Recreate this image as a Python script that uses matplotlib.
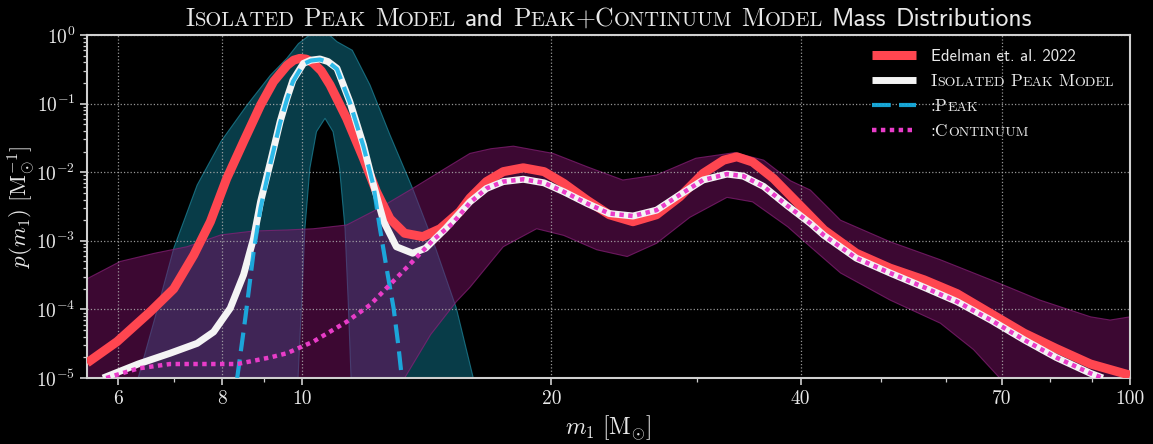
import numpy as np
import matplotlib.pyplot as plt
from matplotlib.ticker import FixedLocator, FixedFormatter, LogLocator, NullFormatter
from matplotlib.transforms import IdentityTransform

plt.rcParams['mathtext.fontset'] = 'cm'
plt.rcParams['axes.unicode_minus'] = False

# ---- data ----
red_m = [5.5, 5.98, 6.56, 7.0, 7.4, 7.75, 8.11, 8.5, 8.91, 9.24, 9.59, 9.77, 9.94, 10.12,
         10.32, 10.55, 10.81, 11.32, 11.86, 12.3, 12.77, 13.3, 13.99, 14.68, 15.5, 15.95, 16.7,
         17.5, 18.5, 19.6, 20.7, 22.1, 23.5, 25.1, 26.8, 28.6, 30.5, 32.3, 33.5, 35.0, 37.1,
         39.3, 42.7, 46.7, 51.3, 56.4, 61.8, 67.9, 74.5, 81.4, 89.6, 100]
red_p = [1.66e-5, 3.4e-5, 9.3e-5, 2.0e-4, 6.2e-4, 1.9e-3, 8.1e-3, 0.028, 0.095, 0.21, 0.36,
         0.43, 0.457, 0.445, 0.39, 0.3, 0.187, 0.061, 0.016, 5.2e-3, 2.1e-3, 1.29e-3, 1.15e-3,
         1.5e-3, 2.65e-3, 4.2e-3, 7.3e-3, 0.0102, 0.0116, 0.0102, 6.9e-3, 3.9e-3, 2.4e-3,
         1.9e-3, 2.4e-3, 4.4e-3, 9.6e-3, 0.015, 0.0168, 0.0141, 8.1e-3, 4.0e-3, 1.44e-3,
         6.6e-4, 4.0e-4, 2.7e-4, 1.7e-4, 8.7e-5, 4.5e-5, 2.7e-5, 1.6e-5, 1.1e-5]

iso_m = [5.75, 6.34, 6.93, 7.47, 7.82, 8.19, 8.5, 8.74, 8.91, 9.16, 9.41, 9.59, 9.75, 10.04,
         10.25, 10.51, 10.75, 11.02, 11.42, 11.86, 12.2, 12.55, 13.0, 13.6, 14.1, 14.9, 15.95,
         16.7, 17.5, 18.5, 19.6, 20.7, 22.1, 23.5, 25.1, 26.8, 28.6, 30.5, 32.6, 34.1, 36.1,
         38.5, 41.1, 42.7, 46.7, 51.3, 56.4, 61.8, 67.9, 74.5, 81.4, 89.6, 92.7]
iso_p = [1.0e-5, 1.6e-5, 2.3e-5, 3.2e-5, 4.7e-5, 1.04e-4, 3.2e-4, 1.09e-3, 3.7e-3, 0.0142,
         0.055, 0.12, 0.22, 0.386, 0.43, 0.447, 0.41, 0.327, 0.107, 0.025, 6.5e-3, 1.9e-3,
         8.2e-4, 6.6e-4, 7.8e-4, 1.5e-3, 3.7e-3, 5.8e-3, 7.3e-3, 7.9e-3, 7.0e-3, 5.2e-3,
         3.5e-3, 2.5e-3, 2.3e-3, 2.8e-3, 4.7e-3, 7.7e-3, 9.4e-3, 8.8e-3, 6.2e-3, 3.3e-3,
         1.8e-3, 1.2e-3, 5.6e-4, 3.4e-4, 2.1e-4, 1.3e-4, 7.0e-5, 3.6e-5, 2.0e-5, 1.17e-5,
         1.0e-5]

peak_m = [8.35, 8.54, 8.74, 8.91, 9.16, 9.41, 9.59, 9.75, 10.04, 10.25, 10.51, 10.75, 11.02,
          11.42, 11.86, 12.2, 12.4, 12.65, 12.9, 13.07, 13.2]
peak_p = [1e-5, 7.4e-5, 6.9e-4, 3.0e-3, 0.0135, 0.053, 0.115, 0.21, 0.38, 0.425, 0.44, 0.405,
          0.32, 0.105, 0.024, 6.3e-3, 1.7e-3, 4.0e-4, 1.04e-4, 3.0e-5, 1e-5]

cont_m = [5.8, 6.34, 6.93, 7.6, 8.35, 9.16, 9.59, 10.32, 11.32, 12.08, 12.77, 13.6, 14.4, 15.2,
          15.95, 16.7, 17.5, 18.5, 19.6, 20.7, 22.1, 23.5, 25.1, 26.8, 28.6, 30.5, 32.6, 34.1,
          36.1, 38.5, 41.1, 42.7, 46.7, 51.3, 56.4, 61.8, 67.9, 74.5, 81.4, 89.6, 92.7]
cont_p = [1e-5, 1.38e-5, 1.6e-5, 1.6e-5, 1.6e-5, 2.0e-5, 2.3e-5, 3.4e-5, 6.6e-5, 1.16e-4,
          2.3e-4, 5.0e-4, 1.03e-3, 1.8e-3, 3.6e-3, 5.8e-3, 7.3e-3, 7.9e-3, 7.0e-3, 5.2e-3,
          3.5e-3, 2.5e-3, 2.3e-3, 2.8e-3, 4.7e-3, 7.7e-3, 9.4e-3, 8.8e-3, 6.2e-3, 3.3e-3,
          1.8e-3, 1.2e-3, 5.6e-4, 3.4e-4, 2.1e-4, 1.3e-4, 7.0e-5, 3.6e-5, 2.0e-5, 1.17e-5,
          1.0e-5]

# peak 90% band: upper edge and lower edge (lower is below the axis outside the arch)
peak_hi_m = [6.34, 6.64, 7.0, 7.47, 7.98, 8.58, 9.16, 9.59, 9.9, 10.32, 10.7, 11.02, 11.5,
             12.08, 12.77, 13.6, 14.5, 15.36, 16.1]
peak_hi_p = [1e-5, 7.4e-5, 7.8e-4, 6.5e-3, 0.028, 0.095, 0.26, 0.46, 0.75, 1.1, 1.1, 0.8, 0.6,
             0.187, 0.035, 5.8e-3, 7.8e-4, 1.04e-4, 1e-5]
peak_lo_m = [6.34, 9.8, 9.89, 9.99, 10.08, 10.22, 10.41, 10.66, 10.9, 11.1, 11.27, 11.37,
             11.46, 11.55, 16.1]
peak_lo_p = [1e-6, 1e-6, 1e-5, 1.3e-4, 1.5e-3, 0.0114, 0.039, 0.061, 0.039, 0.0114, 1.5e-3,
             1.3e-4, 1e-5, 1e-6, 1e-6]

# continuum 90% band
cont_hi_m = [5.5, 6.03, 6.64, 7.26, 7.98, 8.74, 9.59, 10.32, 11.32, 12.4, 13.6, 14.9, 15.95,
             16.9, 18.0, 20.1, 22.1, 24.4, 26.8, 29.9, 33.3, 36.1, 38.9, 41.1, 44.7, 51.3, 59.0,
             67.9, 77.8, 89.6, 94.6, 100]
cont_hi_p = [2.8e-4, 5.0e-4, 6.6e-4, 8.2e-4, 1.22e-3, 1.39e-3, 1.44e-3, 1.5e-3, 1.7e-3,
             3.0e-3, 5.8e-3, 0.0114, 0.0188, 0.022, 0.024, 0.0188, 0.012, 7.7e-3, 9.1e-3,
             0.016, 0.0193, 0.015, 7.5e-3, 5.5e-3, 2.0e-3, 9.7e-4, 5.3e-4, 2.7e-4, 1.37e-4,
             7.8e-5, 7.0e-5, 7.8e-5]
cont_lo_m = [5.5, 13.2, 13.3, 14.3, 15.36, 15.95, 17.5, 19.2, 20.7, 22.7, 24.7, 26.8, 29.4,
             32.6, 35.0, 38.6, 41.1, 44.7, 51.3, 59.0, 64.7, 69.6, 70.5, 100]
cont_lo_p = [1e-6, 1e-6, 1e-5, 4.3e-5, 1.3e-4, 2.1e-4, 8.2e-4, 1.5e-3, 1.2e-3, 7.4e-4, 5.9e-4,
             9.2e-4, 2.2e-3, 4.3e-3, 3.7e-3, 1.6e-3, 8.2e-4, 3.4e-4, 1.37e-4, 6.3e-5, 2.6e-5,
             1e-5, 1e-6, 1e-6]

xticks = [6, 8, 10, 20, 40, 70, 100]
xticklabels = ['6', '8', '10', '20', '40', '70', '100']
xminor = [7, 9, 30, 50, 60, 80, 90]
yticks = [1e-5, 1e-4, 1e-3, 1e-2, 1e-1, 1e0]
yticklabels = [r'$10^{-5}$', r'$10^{-4}$', r'$10^{-3}$', r'$10^{-2}$', r'$10^{-1}$', r'$10^{0}$']

FG = '#e8e8e8'

fig = plt.figure(figsize=(11.53, 4.44), dpi=100, facecolor='black')
ax = fig.add_axes([0.0755, 0.1486, 0.9046, 0.7725])
ax.set_facecolor('black')
ax.set_xscale('log')
ax.set_yscale('log')
ax.set_xlim(5.5, 100)
ax.set_ylim(1e-5, 1)


def band(m_hi, p_hi, m_lo, p_lo, face, edge, alpha, z):
    xs = list(m_hi) + list(m_lo)[::-1]
    ys = list(p_hi) + list(p_lo)[::-1]
    ax.fill(xs, ys, facecolor=face, alpha=alpha, edgecolor='none', zorder=z)
    ax.plot(m_hi, p_hi, color=edge, lw=0.8, alpha=0.7, zorder=z + 0.05)
    ax.plot(m_lo, p_lo, color=edge, lw=0.8, alpha=0.7, zorder=z + 0.05)


band(peak_hi_m, peak_hi_p, peak_lo_m, peak_lo_p, '#107890', '#1f8aa0', 0.5, 1.0)
band(cont_hi_m, cont_hi_p, cont_lo_m, cont_lo_p, '#781064', '#8a207a', 0.5, 1.2)

ax.set_axisbelow('line')
ax.grid(True, which='major', ls=':', color='#b0b0b0', lw=0.9, alpha=0.85)

kw = dict(solid_joinstyle='round', solid_capstyle='butt')
l_red, = ax.plot(red_m, red_p, color='#ff4650', lw=6.5, zorder=3, **kw)
l_iso, = ax.plot(iso_m, iso_p, color='#f4f4f4', lw=5, zorder=4, **kw)
l_peak, = ax.plot(peak_m, peak_p, color='#18b4e8', lw=3, dashes=(4.5, 2), alpha=0.9,
                  dash_joinstyle='round', zorder=5)
l_cont, = ax.plot(cont_m, cont_p, color='#e83cc8', lw=3.2, dashes=(1, 1), zorder=6)

# axes styling
for s in ax.spines.values():
    s.set_color('#d0d0d0')
    s.set_linewidth(1.5)
ax.xaxis.set_major_locator(FixedLocator(xticks))
ax.xaxis.set_major_formatter(FixedFormatter(xticklabels))
ax.xaxis.set_minor_locator(FixedLocator(xminor))
ax.xaxis.set_minor_formatter(NullFormatter())
ax.yaxis.set_major_locator(FixedLocator(yticks))
ax.yaxis.set_major_formatter(FixedFormatter(yticklabels))
ax.yaxis.set_minor_locator(LogLocator(base=10, subs=np.arange(2, 10)))
ax.yaxis.set_minor_formatter(NullFormatter())
ax.tick_params(which='both', colors='#d0d0d0', labelcolor=FG, direction='out')
ax.tick_params(which='major', length=5, width=1.2, labelsize=14)
ax.tick_params(which='minor', length=3, width=0.9)
for t in ax.get_xticklabels():
    t.set_fontfamily('cmr10')

ax.set_xlabel(r'$m_1\ [\mathrm{M}_{\odot}]$', fontsize=17, color=FG, labelpad=4)
ax.set_ylabel(r'$p(m_1)\ [\mathrm{M}_{\odot}^{-1}]$', fontsize=16.5, color=FG)
ax.yaxis.set_label_coords(-0.047, 0.5)

# legend (small caps labels drawn afterwards)
leg = ax.legend([l_red, l_iso, l_peak, l_cont],
                ['Edelman et. al. 2022', 'Isolated Peak Model', ':Peak', ':Continuum'],
                loc='upper right', bbox_to_anchor=(0.962, 1.003), frameon=False,
                prop={'family': 'cmss10', 'size': 12}, labelcolor=FG,
                handlelength=2.6, handletextpad=0.9, labelspacing=0.6)

fig.canvas.draw()
renderer = fig.canvas.get_renderer()
px = fig.dpi / 72.0


def smallcaps_pieces(s, size, family='cmr10', ratio=0.8):
    pieces = []
    for word in s.split(' '):
        run, small = '', None
        for ch in word:
            sm = ch.isalpha() and ch.islower()
            if small is None or sm == small:
                run += ch.upper()
            else:
                pieces.append((run, size * ratio if small else size, family))
                run = ch.upper()
            small = sm
        if run:
            pieces.append((run, size * ratio if small else size, family))
        pieces.append((' ', size, family))
    return pieces[:-1]


def plain_pieces(s, size, family):
    out = []
    for i, word in enumerate(s.split(' ')):
        if i:
            out.append((' ', size, family))
        if word:
            out.append((word, size, family))
    return out


def place(pieces, x0, y0, center=False):
    arts = []
    x = x0
    for txt, size, fam in pieces:
        if txt == ' ':
            x += size * 0.34 * px
            continue
        t = fig.text(x, y0, txt, transform=IdentityTransform(), fontsize=size,
                     family=fam, color=FG, va='baseline', ha='left')
        w = t.get_window_extent(renderer).width
        arts.append((t, x))
        x += w
    if center:
        shift = (x - x0) / 2.0
        for t, xx in arts:
            t.set_x(xx - shift)
    return arts


# title
tsize = 18.5
title = (smallcaps_pieces('Isolated Peak Model', tsize) + [(' ', tsize, 'cmr10')]
         + plain_pieces('and', tsize, 'cmss10') + [(' ', tsize, 'cmr10')]
         + smallcaps_pieces('Peak+Continuum Model', tsize) + [(' ', tsize, 'cmr10')]
         + plain_pieces('Mass Distributions', tsize, 'cmss10'))
ax_bb = ax.get_window_extent(renderer)
place(title, (ax_bb.x0 + ax_bb.x1) / 2.0, fig.bbox.height - 26, center=True)

# legend small caps
for txt, lab in zip(leg.get_texts()[1:], ['Isolated Peak Model', ':Peak', ':Continuum']):
    bx, by = txt.get_transform().transform(txt.get_position())
    txt.set_alpha(0)
    place(smallcaps_pieces(lab, 12.5), bx, by)

fig.savefig('out.png', dpi=100, facecolor='black')
